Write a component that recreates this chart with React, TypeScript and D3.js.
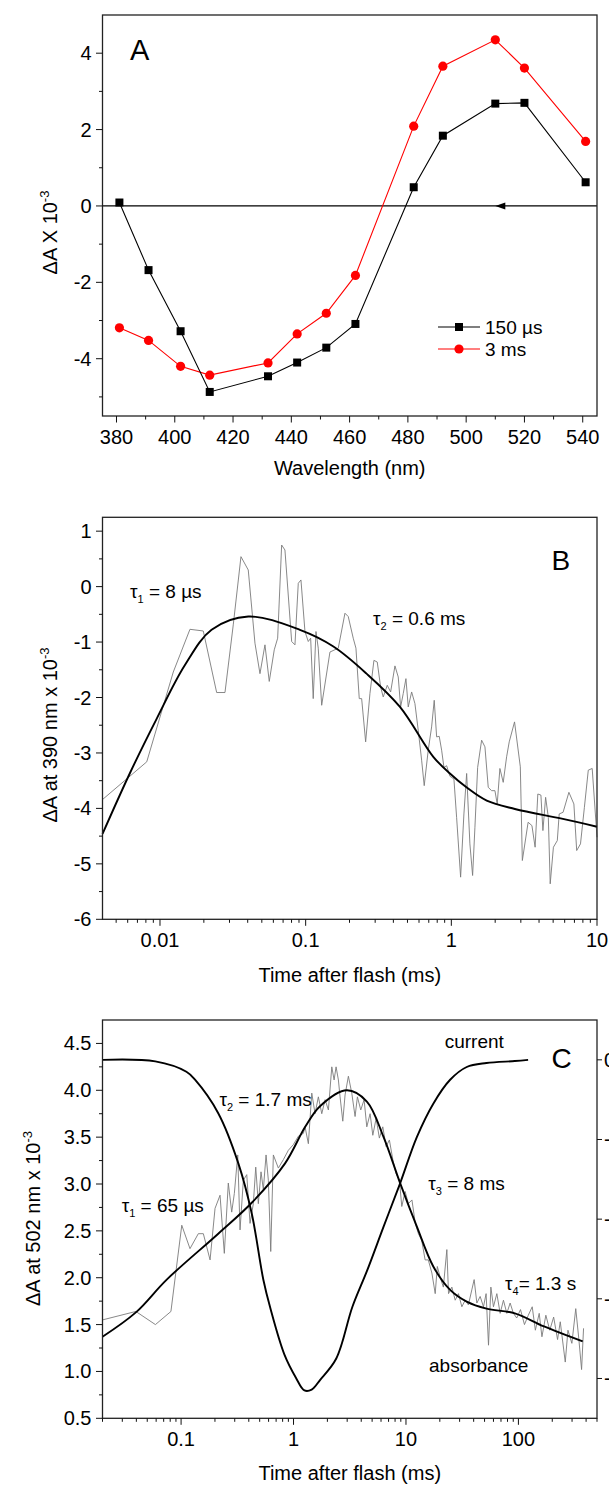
import React from 'react';
import * as d3 from 'd3';

const W = 609;
const H = 1486;
const FONT = "'Liberation Sans', Arial, Helvetica, sans-serif";
const LEFT = 102.5;
const RIGHT = 597;

// ---- panel A: difference spectra
const wavelengths = [381, 391, 402, 412, 432, 442, 452, 462, 482, 492, 510, 520, 541];
const spec150us = [0.09, -1.68, -3.28, -4.87, -4.46, -4.1, -3.71, -3.09, 0.49, 1.84, 2.68, 2.7, 0.62];
const spec3ms = [-3.19, -3.52, -4.2, -4.43, -4.11, -3.35, -2.81, -1.82, 2.09, 3.66, 4.35, 3.61, 1.69];
const aXTicks = [380, 400, 420, 440, 460, 480, 500, 520, 540];
const aYTicks = [-4, -2, 0, 2, 4];

// ---- panel B: kinetics at 390 nm, [time ms, dA x 1e-3]
const trace390 = [
  [0.00403, -3.84], [0.00811, -3.16], [0.01234, -1.54], [0.01606, -0.77], [0.01982, -0.8],
  [0.02449, -1.91], [0.02793, -1.91], [0.03184, -0.69], [0.03596, 0.54], [0.04036, 0.3],
  [0.04487, -1.02], [0.04857, -1.57], [0.05255, -1.05], [0.05624, -1.71], [0.06087, -1.14],
  [0.06424, -0.93], [0.06841, 0.75], [0.07208, 0.66], [0.08015, -0.99], [0.08443, -1.05],
  [0.08897, 0.06], [0.09284, 0.12], [0.0989, -0.81], [0.1042, -0.99], [0.1082, -0.93],
  [0.1127, -2.02], [0.1177, -0.81], [0.122, -1.11], [0.1288, -2.14], [0.1468, -1.18],
  [0.1674, -1.11], [0.1861, -0.48], [0.196, -0.54], [0.2121, -0.93], [0.2214, -1.11],
  [0.2333, -2.02], [0.2423, -2.02], [0.2581, -2.8], [0.2762, -1.93], [0.2942, -1.33],
  [0.31, -1.36], [0.3271, -1.81], [0.3408, -1.99], [0.3631, -1.78], [0.3831, -1.9],
  [0.4101, -1.43], [0.4321, -1.63], [0.4487, -2.17], [0.4675, -1.93], [0.4879, -1.66],
  [0.506, -2.17], [0.534, -1.9], [0.5625, -2.11], [0.5926, -2.59], [0.6253, -3.13],
  [0.6516, -3.59], [0.694, -2.95], [0.7323, -2.53], [0.7631, -2.05], [0.7927, -2.71],
  [0.8259, -2.7], [0.8578, -2.95], [0.8897, -3.26], [0.9284, -3.23], [0.978, -3.42],
  [1.042, -3.47], [1.087, -4.16], [1.158, -5.24], [1.22, -4.1], [1.274, -3.37],
  [1.341, -4.64], [1.4, -5.21], [1.452, -4.34], [1.516, -3.26], [1.614, -2.77],
  [1.701, -2.89], [1.792, -3.62], [1.89, -3.68], [1.992, -3.68], [2.065, -3.92],
  [2.155, -3.28], [2.271, -3.53], [2.396, -3.07], [2.497, -2.8], [2.716, -2.44],
  [2.976, -3.25], [3.072, -4.94], [3.366, -4.25], [3.575, -4.31], [3.76, -4.7],
  [3.924, -3.74], [4.121, -3.76], [4.253, -4.4], [4.439, -3.8], [4.633, -4.16],
  [4.773, -5.36], [5.021, -4.7], [5.34, -4.58], [5.502, -4.1], [5.851, -4.07],
  [6.413, -3.71], [6.939, -3.92], [7.255, -4.76], [7.703, -4.64], [8.193, -3.98],
  [8.713, -3.31], [9.268, -3.28], [10, -4.52],
];
const fit390 = [
  [0.00403, -4.46], [0.0062, -3.37], [0.0095, -2.38], [0.0148, -1.42], [0.0226, -0.78],
  [0.0404, -0.54], [0.0913, -0.78], [0.155, -1.08], [0.262, -1.57], [0.444, -2.17],
  [0.752, -3.07], [0.978, -3.37], [1.27, -3.62], [1.75, -3.86], [2.73, -4.01],
  [5.83, -4.19], [10, -4.33],
];
const bXTicks = [0.01, 0.1, 1, 10];
const bYTicks = [-6, -5, -4, -3, -2, -1, 0, 1];

// ---- panel C: kinetics at 502 nm and photocurrent
const trace502 = [
  [0.02, 1.55], [0.0396, 1.64], [0.0591, 1.5], [0.0812, 1.64], [0.1014, 2.56], [0.12, 2.31],
  [0.1423, 2.47], [0.1577, 2.47], [0.181, 2.19], [0.2004, 2.74], [0.222, 2.88], [0.2424, 2.26],
  [0.263, 3.01], [0.282, 2.7], [0.2976, 2.9], [0.319, 3.31], [0.3344, 2.51], [0.3579, 3.04],
  [0.3837, 3.1], [0.4105, 2.58], [0.4391, 2.79], [0.4613, 3.18], [0.4864, 2.79], [0.514, 3.13],
  [0.5389, 2.94], [0.5696, 3.31], [0.5972, 3.04], [0.627, 2.28], [0.6614, 3.31], [0.7328, 3.17],
  [0.812, 3.26], [0.8995, 3.36], [0.9963, 3.42], [1.104, 3.51], [1.223, 3.54], [1.266, 3.61],
  [1.355, 3.43], [1.453, 3.97], [1.554, 3.75], [1.663, 3.93], [1.783, 3.75], [1.909, 3.9],
  [2.042, 3.79], [2.189, 4.25], [2.295, 4.11], [2.39, 4.25], [2.506, 4.11], [2.594, 3.93],
  [2.742, 3.67], [2.873, 3.95], [3.075, 4.15], [3.296, 3.97], [3.527, 3.72], [3.698, 3.93],
  [3.963, 3.79], [4.242, 3.9], [4.483, 3.61], [4.798, 3.75], [5.07, 3.52], [5.43, 3.7],
  [5.8, 3.49], [6.22, 3.61], [6.66, 3.4], [7.12, 3.47], [7.64, 3.26], [8.17, 3.11],
  [8.74, 3.04], [9.18, 2.76], [9.83, 2.92], [10.5, 2.79], [11.3, 2.83], [12.1, 2.58],
  [12.9, 2.47], [13.8, 2.4], [14.8, 2.19], [15.8, 2.19], [17.0, 2.05], [18.2, 1.83],
  [19.0, 2.12], [20.1, 2.01], [21.5, 1.9], [23.1, 2.3], [23.9, 1.83], [25.6, 1.9],
  [27.4, 1.76], [29.3, 1.83], [31.4, 1.69], [33.6, 1.76], [35.9, 1.71], [38.5, 1.87],
  [40.4, 1.98], [42.7, 1.73], [45.7, 1.8], [48.9, 1.69], [51.6, 1.83], [54.2, 1.28],
  [56.9, 1.9], [60.0, 1.69], [64.3, 1.83], [68.8, 1.62], [73.6, 1.76], [78.9, 1.62],
  [84.4, 1.73], [90.3, 1.62], [96.6, 1.57], [104.4, 1.66], [113.2, 1.5], [122.5, 1.6],
  [132.7, 1.69], [141.5, 1.44], [153.1, 1.62], [161.9, 1.37], [175.4, 1.6], [190, 1.44],
  [205.8, 1.58], [222.9, 1.34], [235.6, 1.53], [261, 1.1], [275.8, 1.44], [298.8, 1.3],
  [323.6, 1.67], [345, 1.34], [364.6, 1.02], [379.6, 1.46],
];
const fit502 = [
  [0.02, 1.37], [0.0396, 1.63], [0.0745, 1.98], [0.214, 2.47], [0.425, 2.8], [0.841, 3.22],
  [1.27, 3.61], [1.72, 3.83], [2.98, 4.0], [4.49, 3.88], [6.3, 3.505], [8.87, 3.01],
  [12.5, 2.545], [17.5, 2.12], [24.7, 1.87], [34.7, 1.745], [52, 1.67], [93, 1.62],
  [169, 1.48], [373, 1.32],
];
// photocurrent, read on the (cropped) right axis
const current = [
  [0.02, 0], [0.059, -0.02], [0.1115, -0.15], [0.133, -0.25], [0.214, -0.67], [0.323, -1.3],
  [0.425, -1.93], [0.539, -2.76], [0.62, -3.11], [0.83, -3.7], [1.05, -3.99], [1.25, -4.15],
  [1.45, -4.14], [1.72, -4.02], [2.4, -3.75], [3.34, -3.1], [4.5, -2.65], [6.3, -2.1],
  [8.87, -1.55], [12.49, -0.97], [17.5, -0.55], [24.7, -0.25], [34.7, -0.09], [52, -0.04],
  [93, -0.015], [122, 0],
];
const cXTicks = [0.1, 1, 10, 100];
const cYTicks = [0.5, 1.0, 1.5, 2.0, 2.5, 3.0, 3.5, 4.0, 4.5];
const cRightTicks = [0, -1, -2, -3, -4];

const logMinor = (domain: number[]) => {
  const out: number[] = [];
  for (let e = Math.floor(Math.log10(domain[0])); e <= Math.ceil(Math.log10(domain[1])); e++) {
    for (let k = 2; k <= 9; k++) {
      const v = k * Math.pow(10, e);
      if (v >= domain[0] && v <= domain[1]) out.push(v);
    }
  }
  return out;
};

const LeftAxis = ({ y, major, minor, fmt }: any) => (
  <g stroke="#111">
    {minor.map((v: number) => (
      <line key={'n' + v} x1={LEFT - 3.5} x2={LEFT} y1={y(v)} y2={y(v)} />
    ))}
    {major.map((v: number) => (
      <g key={'t' + v}>
        <line x1={LEFT - 6.5} x2={LEFT} y1={y(v)} y2={y(v)} />
        <text x={LEFT - 11} y={y(v) + 7} textAnchor="end" fontSize={20} stroke="none" fill="#000">
          {fmt(v)}
        </text>
      </g>
    ))}
  </g>
);

const BottomAxis = ({ x, bottom, major, minor, fmt }: any) => (
  <g stroke="#111">
    {minor.map((v: number) => (
      <line key={'n' + v} x1={x(v)} x2={x(v)} y1={bottom} y2={bottom + 3.5} />
    ))}
    {major.map((v: number) => (
      <g key={'t' + v}>
        <line x1={x(v)} x2={x(v)} y1={bottom} y2={bottom + 6.5} />
        <text x={x(v)} y={bottom + 28} textAnchor="middle" fontSize={20} stroke="none" fill="#000">
          {fmt(v)}
        </text>
      </g>
    ))}
  </g>
);

const Frame = ({ top, bottom }: any) => (
  <rect x={LEFT} y={top} width={RIGHT - LEFT} height={bottom - top} fill="none" stroke="#222" strokeWidth={1.3} />
);

const YLabel = ({ x, cy, text }: any) => (
  <text transform={`translate(${x},${cy}) rotate(-90)`} textAnchor="middle" fontSize={20}>
    {text}
    <tspan dy={-8} fontSize={13}>-3</tspan>
  </text>
);

const Tau = ({ x, y, sub, rest }: any) => (
  <text x={x} y={y} fontSize={19}>
    τ<tspan dy={5} fontSize={11}>{sub}</tspan>
    <tspan dy={-5}>{rest}</tspan>
  </text>
);

const num = (v: number) => String(v);
const fix1 = (v: number) => v.toFixed(1);

export default function App() {
  // panel A
  const aTop = 15, aBottom = 416;
  const xA = d3.scaleLinear().domain([375.2, 544.9]).range([LEFT, RIGHT]);
  const yA = d3.scaleLinear().domain([-5.5, 5]).range([aBottom, aTop]);
  const lineA = d3.line<number>().x((_, i) => xA(wavelengths[i])).y((d) => yA(d));
  const aMinorX = d3.range(390, 545, 20);
  const aMinorY = [-5, -3, -1, 1, 3];

  const smooth = d3.curveCatmullRom.alpha(0.5);

  // panel B
  const bTop = 517.3, bBottom = 919.3;
  const xB = d3.scaleLog().domain([0.00403, 10]).range([LEFT, RIGHT]);
  const yB = d3.scaleLinear().domain([-6, 1.25]).range([bBottom, bTop]);
  const rawB = d3.line<number[]>().x((d) => xB(d[0])).y((d) => yB(d[1]));
  const smoothB = d3.line<number[]>().x((d) => xB(d[0])).y((d) => yB(d[1])).curve(smooth);
  const bMinorY = d3.range(-5.5, 1.25, 1);

  // panel C
  const cTop = 1020, cBottom = 1418.3;
  const xC = d3.scaleLog().domain([0.02, 500]).range([LEFT, RIGHT]);
  const yC = d3.scaleLinear().domain([0.5, 4.75]).range([cBottom, cTop]);
  const yCr = d3.scaleLinear().domain([-4.5, 0.5]).range([cBottom, cTop]);
  const rawC = d3.line<number[]>().x((d) => xC(d[0])).y((d) => yC(d[1]));
  const smoothC = d3.line<number[]>().x((d) => xC(d[0])).y((d) => yC(d[1])).curve(smooth);
  const smoothCur = d3.line<number[]>().x((d) => xC(d[0])).y((d) => yCr(d[1])).curve(smooth);
  const cMinorY = d3.range(0.75, 4.75, 0.5);

  const arrowX = xA(510);
  const y0 = yA(0);

  return (
    <svg
      width={W}
      height={H}
      style={{ position: 'absolute', left: 0, top: 0, background: '#fff' }}
      fontFamily={FONT}
    >
      {/* ---------- A ---------- */}
      <line x1={LEFT} x2={RIGHT} y1={y0} y2={y0} stroke="#000" strokeWidth={1.3} />
      <path d={`M${arrowX},${y0} L${arrowX + 10},${y0 - 3.5} L${arrowX + 10},${y0 + 3.5} Z`} fill="#000" />
      <path d={lineA(spec3ms) || ''} fill="none" stroke="#ff0000" strokeWidth={1.1} />
      <path d={lineA(spec150us) || ''} fill="none" stroke="#000" strokeWidth={1.1} />
      {spec3ms.map((v, i) => (
        <circle key={'r' + i} cx={xA(wavelengths[i])} cy={yA(v)} r={4.6} fill="#ff0000" />
      ))}
      {spec150us.map((v, i) => (
        <rect key={'s' + i} x={xA(wavelengths[i]) - 4} y={yA(v) - 4} width={8} height={8} fill="#000" />
      ))}
      <Frame top={aTop} bottom={aBottom} />
      <LeftAxis y={yA} major={aYTicks} minor={aMinorY} fmt={num} />
      <BottomAxis x={xA} bottom={aBottom} major={aXTicks} minor={aMinorX} fmt={num} />
      <text x={130} y={60} fontSize={29}>A</text>
      <YLabel x={56.5} cy={232.5} text="ΔA X 10" />
      <text x={LEFT + (RIGHT - LEFT) / 2} y={475} textAnchor="middle" fontSize={20}>Wavelength (nm)</text>
      {/* legend */}
      <line x1={438} x2={480} y1={327} y2={327} stroke="#000" strokeWidth={1.1} />
      <rect x={455} y={323} width={8} height={8} fill="#000" />
      <text x={485} y={334} fontSize={19}>150 µs</text>
      <line x1={438} x2={480} y1={349} y2={349} stroke="#ff0000" strokeWidth={1.1} />
      <circle cx={459} cy={349} r={4.6} fill="#ff0000" />
      <text x={485} y={356} fontSize={19}>3 ms</text>

      {/* ---------- B ---------- */}
      <path d={rawB(trace390) || ''} fill="none" stroke="#7a7a7a" strokeWidth={0.9} />
      <path d={smoothB(fit390) || ''} fill="none" stroke="#000" strokeWidth={1.9} />
      <Frame top={bTop} bottom={bBottom} />
      <LeftAxis y={yB} major={bYTicks} minor={bMinorY} fmt={num} />
      <BottomAxis x={xB} bottom={bBottom} major={bXTicks} minor={logMinor([0.00403, 10])} fmt={num} />
      <text x={551.5} y={570} fontSize={28}>B</text>
      <Tau x={130} y={598} sub="1" rest=" = 8 µs" />
      <Tau x={373} y={625} sub="2" rest=" = 0.6 ms" />
      <YLabel x={57} cy={735} text="ΔA at 390 nm x 10" />
      <text x={LEFT + (RIGHT - LEFT) / 2} y={982} textAnchor="middle" fontSize={20}>Time after flash (ms)</text>

      {/* ---------- C ---------- */}
      <path d={rawC(trace502) || ''} fill="none" stroke="#7a7a7a" strokeWidth={0.9} />
      <path d={smoothC(fit502) || ''} fill="none" stroke="#000" strokeWidth={1.9} />
      <path d={smoothCur(current) || ''} fill="none" stroke="#000" strokeWidth={1.9} />
      <Frame top={cTop} bottom={cBottom} />
      <LeftAxis y={yC} major={cYTicks} minor={cMinorY} fmt={fix1} />
      <BottomAxis x={xC} bottom={cBottom} major={cXTicks} minor={logMinor([0.02, 500])} fmt={num} />
      <g stroke="#111">
        {cRightTicks.map((v) => (
          <g key={'r' + v}>
            <line x1={RIGHT} x2={RIGHT + 5} y1={yCr(v)} y2={yCr(v)} />
            <text x={RIGHT + 7} y={yCr(v) + 7} fontSize={20} stroke="none" fill="#000">{num(v)}</text>
          </g>
        ))}
      </g>
      <text x={444.7} y={1048} fontSize={19}>current</text>
      <text x={551.5} y={1068} fontSize={28}>C</text>
      <Tau x={219.4} y={1106} sub="2" rest=" = 1.7 ms" />
      <Tau x={121.7} y={1212} sub="1" rest=" = 65 µs" />
      <Tau x={428.3} y={1190} sub="3" rest=" = 8 ms" />
      <Tau x={505} y={1290} sub="4" rest="= 1.3 s" />
      <text x={429} y={1372} fontSize={19}>absorbance</text>
      <YLabel x={39.5} cy={1218.5} text="ΔA at 502 nm x 10" />
      <text x={LEFT + (RIGHT - LEFT) / 2} y={1480} textAnchor="middle" fontSize={20}>Time after flash (ms)</text>
    </svg>
  );
}
